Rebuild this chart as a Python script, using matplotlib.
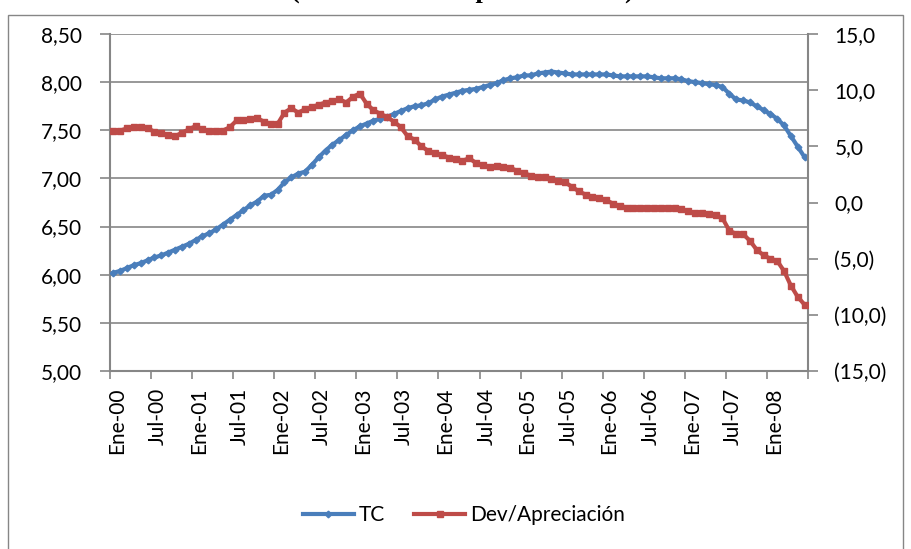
import numpy as np
import matplotlib
matplotlib.use("Agg")
import matplotlib.pyplot as plt
from matplotlib.ticker import FixedLocator, FuncFormatter
from matplotlib.lines import Line2D
from matplotlib.patches import Rectangle

plt.rcParams['font.family'] = ['Lato', 'DejaVu Sans']

# ---------------- data (monthly, Ene-00 .. Jun-08) ----------------
tc = [6.02, 6.04, 6.07, 6.10, 6.12, 6.15, 6.18, 6.20, 6.23, 6.26, 6.29, 6.32,
      6.36, 6.40, 6.43, 6.47, 6.52, 6.57, 6.62, 6.67, 6.72, 6.76, 6.82, 6.83,
      6.88, 6.96, 7.01, 7.05, 7.07, 7.14, 7.22, 7.29, 7.35, 7.40, 7.45, 7.50,
      7.54, 7.57, 7.60, 7.62, 7.64, 7.67, 7.70, 7.73, 7.75, 7.76, 7.78, 7.82,
      7.85, 7.87, 7.89, 7.91, 7.92, 7.93, 7.95, 7.97, 7.99, 8.02, 8.04, 8.05,
      8.07, 8.07, 8.09, 8.10, 8.11, 8.10, 8.09, 8.08, 8.08, 8.08, 8.08, 8.08,
      8.08, 8.07, 8.06, 8.06, 8.06, 8.06, 8.06, 8.05, 8.04, 8.04, 8.04, 8.03,
      8.01, 8.00, 7.99, 7.98, 7.97, 7.95, 7.88, 7.82, 7.81, 7.79, 7.75, 7.71,
      7.67, 7.62, 7.55, 7.44, 7.33, 7.22]

dev = [6.4, 6.4, 6.6, 6.7, 6.7, 6.6, 6.3, 6.2, 6.0, 5.9, 6.2, 6.5,
       6.8, 6.5, 6.4, 6.4, 6.4, 6.7, 7.3, 7.3, 7.4, 7.5, 7.2, 7.0,
       7.0, 8.0, 8.4, 8.0, 8.3, 8.5, 8.7, 8.9, 9.0, 9.2, 8.9, 9.4,
       9.7, 8.8, 8.2, 7.9, 7.6, 7.2, 6.7, 5.9, 5.6, 5.0, 4.6, 4.4,
       4.25, 4.0, 3.9, 3.7, 3.95, 3.5, 3.3, 3.2, 3.25, 3.2, 3.1, 2.8,
       2.6, 2.4, 2.3, 2.25, 2.1, 1.9, 1.8, 1.4, 1.0, 0.7, 0.5, 0.4,
       0.2, -0.1, -0.3, -0.45, -0.45, -0.45, -0.45, -0.45, -0.45, -0.45, -0.45, -0.6,
       -0.8, -0.9, -0.9, -1.0, -1.1, -1.4, -2.5, -2.8, -2.8, -3.4, -4.2, -4.7,
       -5.0, -5.2, -6.1, -7.4, -8.4, -9.1]

tick_labels = ['Ene-00', 'Jul-00', 'Ene-01', 'Jul-01', 'Ene-02', 'Jul-02',
               'Ene-03', 'Jul-03', 'Ene-04', 'Jul-04', 'Ene-05', 'Jul-05',
               'Ene-06', 'Jul-06', 'Ene-07', 'Jul-07', 'Ene-08']

series_names = ['TC', 'Dev/Apreciación']
title_text = '(Evolución del tipo de cambio)'

left_ticks = [5.0, 5.5, 6.0, 6.5, 7.0, 7.5, 8.0, 8.5]
right_ticks = [-15, -10, -5, 0, 5, 10, 15]

# ---------------- styling ----------------
BLUE = '#4A7EBB'
RED = '#BE4B48'
GRAY = '#868686'
FS = 15

fig = plt.figure(figsize=(9.12, 5.49), dpi=100)
W, H = 912, 549

# outer chart frame
fig.patches.append(Rectangle((8 / W, -0.1), (903 - 8) / W, 1.1 - 15 / H,
                             transform=fig.transFigure, fill=False,
                             edgecolor=GRAY, linewidth=1.0))
# title (mostly cut off at the top of the picture, as in the reference)
fig.text(462 / W, 1 + 2.5 / H, title_text, ha='center', va='baseline',
         family='Liberation Serif', fontweight='bold', fontsize=19)

ax = fig.add_axes([110 / W, 1 - 371 / H, (808 - 110) / W, (371 - 34) / H])
ax2 = ax.twinx()

n = len(tc)
x = np.arange(n) + 0.5

ax.plot(x, tc, color=BLUE, lw=3.0, marker='D', ms=3.4, zorder=3)
ax2.plot(x, dev, color=RED, lw=3.0, marker='s', ms=4.2, zorder=3)

ax.set_xlim(0, n)
ax.set_ylim(5.0, 8.5)
ax2.set_ylim(-15, 15)

# x axis
ax.xaxis.set_major_locator(FixedLocator(list(range(0, n + 1, 6))))
ax.xaxis.set_major_formatter(FuncFormatter(lambda v, p: ''))
ax.xaxis.set_minor_locator(FixedLocator([6 * k + 1.0 for k in range(len(tick_labels))]))
ax.set_xticklabels(tick_labels, minor=True, rotation=90, fontsize=FS)
ax.tick_params(axis='x', which='major', direction='out', length=6, width=1.2, color=GRAY)
ax.tick_params(axis='x', which='minor', length=0, pad=12)

# left y axis
ax.set_yticks(left_ticks)
ax.yaxis.set_major_formatter(FuncFormatter(lambda v, p: f"{v:.2f}".replace('.', ',')))
ax.tick_params(axis='y', direction='out', length=7, width=1.2, color=GRAY,
               labelsize=FS, pad=13)
ax.grid(axis='y', color=GRAY, lw=1.2, zorder=0)
ax.set_axisbelow(True)

# right y axis
def rfmt(v, p):
    s = f"{abs(v):.1f}".replace('.', ',')
    return f"({s})" if v < 0 else s

ax2.set_yticks(right_ticks)
ax2.yaxis.set_major_formatter(FuncFormatter(rfmt))
ax2.tick_params(axis='y', direction='out', length=7, width=1.2, color=GRAY,
                labelsize=FS, pad=12)

for a in (ax, ax2):
    a.spines['top'].set_visible(False)
    for s in ('left', 'right', 'bottom'):
        a.spines[s].set_color(GRAY)
        a.spines[s].set_linewidth(1.5)
ax2.spines['left'].set_visible(False)
ax2.spines['bottom'].set_visible(False)
ax.spines['right'].set_visible(False)

handles = [Line2D([], [], color=BLUE, lw=3.0, marker='D', ms=3.4),
           Line2D([], [], color=RED, lw=3.0, marker='s', ms=4.2)]
fig.legend(handles, series_names, loc='center', bbox_to_anchor=(464 / W, 1 - 515 / H),
           ncol=2, frameon=False, fontsize=FS, handlelength=2.45,
           handletextpad=0.25, columnspacing=1.4)

fig.savefig('out.png', dpi=100)
